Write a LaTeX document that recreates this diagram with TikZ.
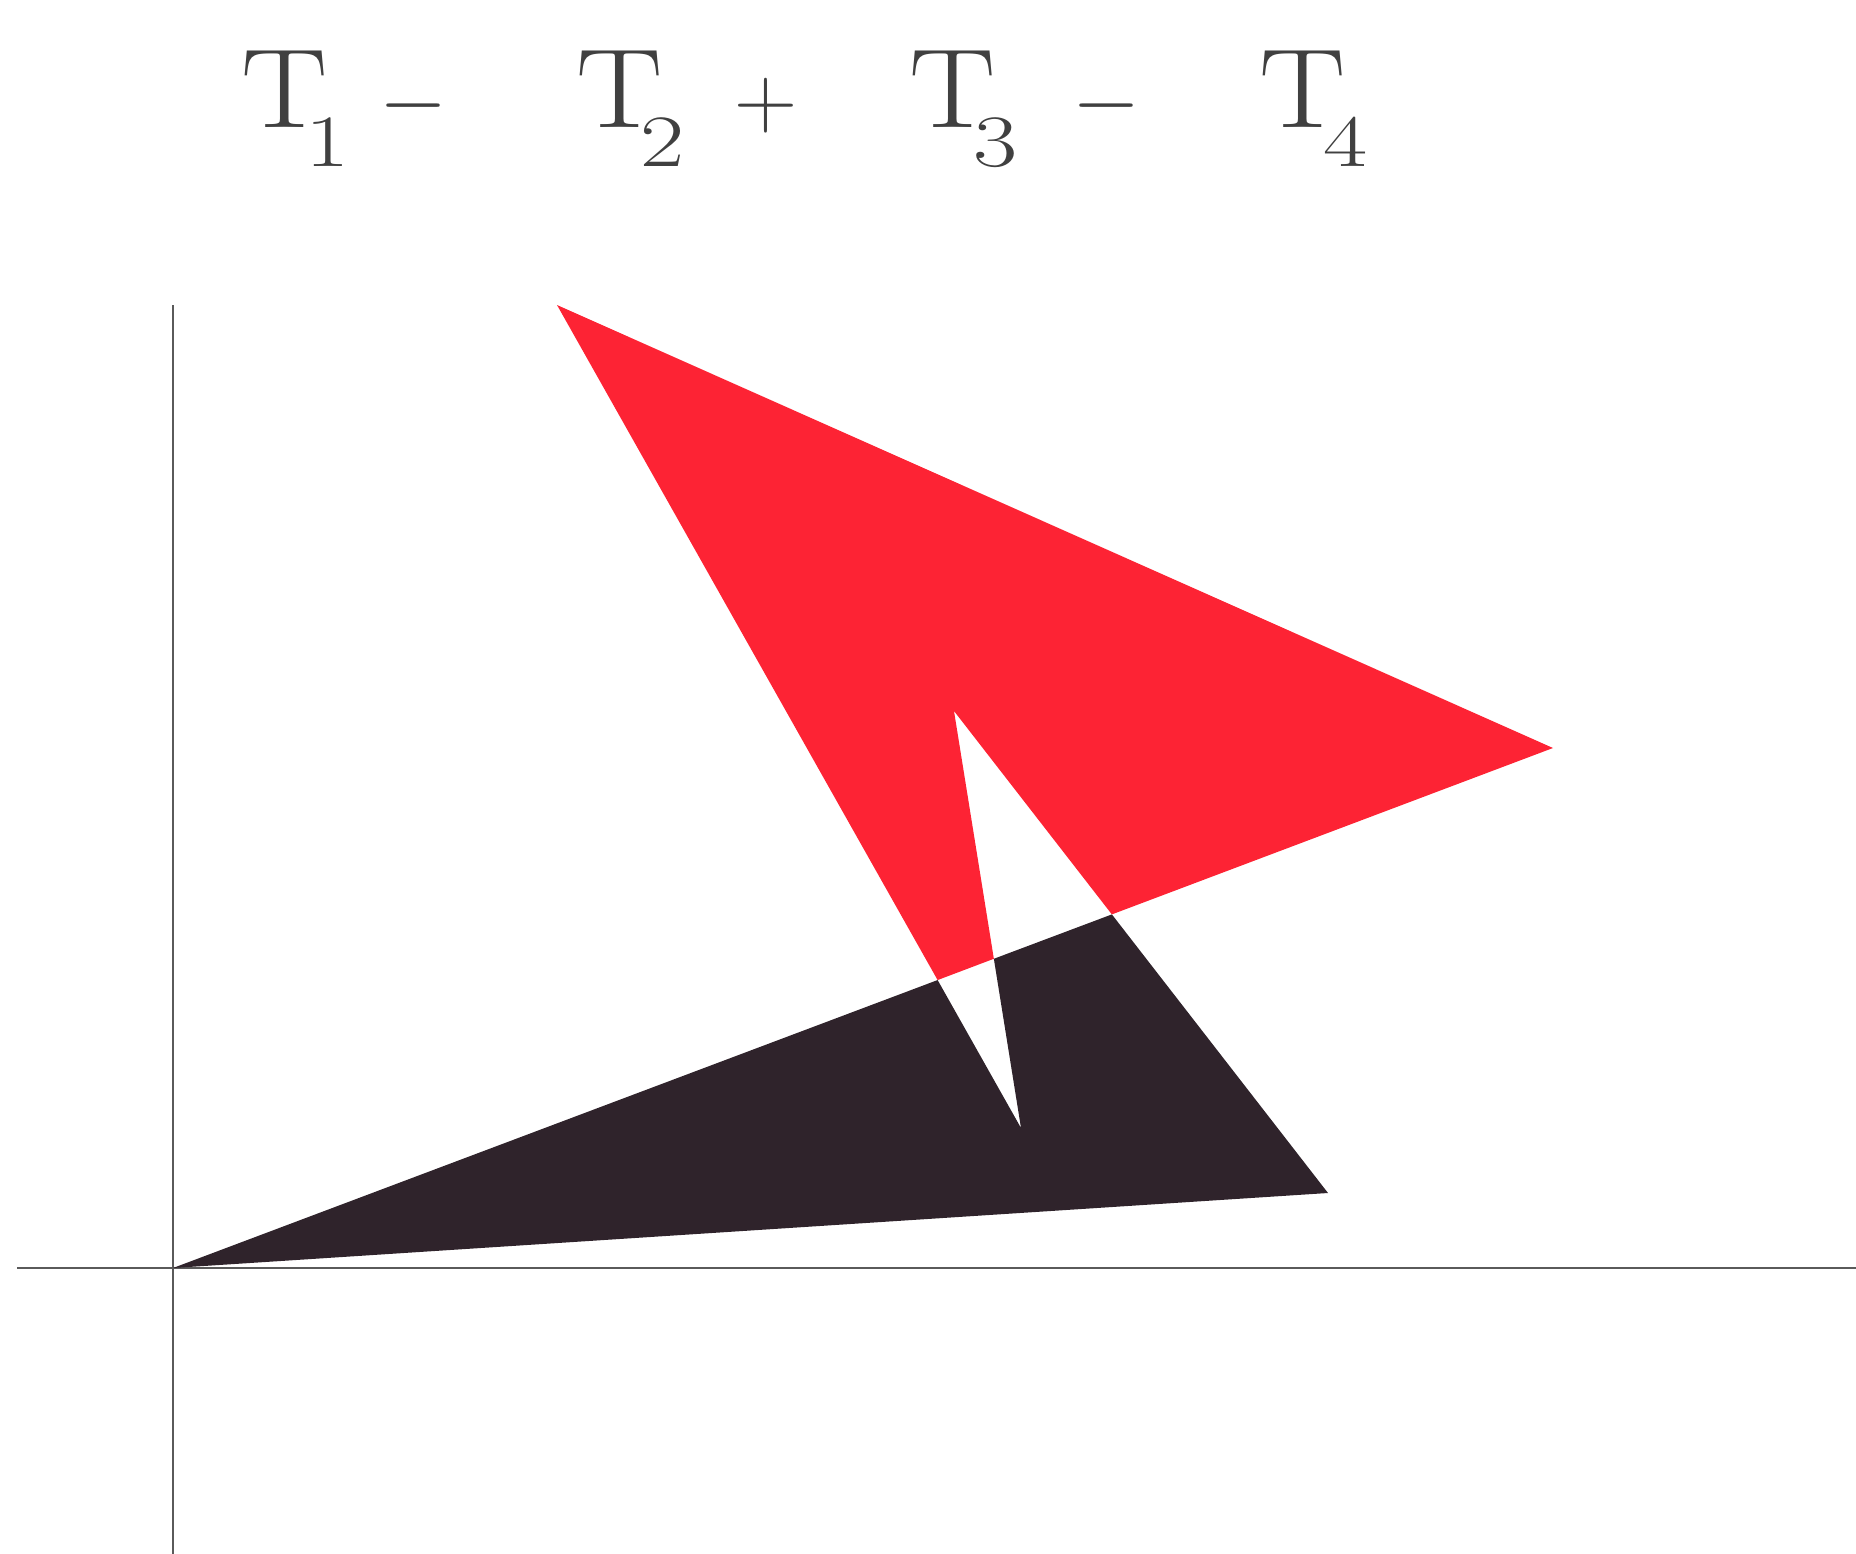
\documentclass[tikz,border=0pt]{standalone}
\usepackage{tikz}
\usetikzlibrary{positioning}
\definecolor{mRed}{HTML}{FD2334}
\definecolor{mDark}{HTML}{2F232B}
\definecolor{mAxis}{HTML}{5A5A5A}
\definecolor{mText}{HTML}{404040}
\newcommand{\tterm}[1]{\scalebox{1.15}[1]{T}\kern-6.5pt\raisebox{-11.2pt}{\fontsize{21}{24}\selectfont\scalebox{1.3}[1]{#1}}}
\tikzset{
  tlabel/.style={inner sep=0pt, anchor=base west, text=mText, font=\fontsize{32}{38}\selectfont},
  oplabel/.style={inner sep=0pt, anchor=base, text=mText, font=\fontsize{32}{38}\selectfont},
  axisline/.style={mAxis, line width=0.8pt},
  redpart/.style={fill=mRed, draw=none},
  darkpart/.style={fill=mDark, draw=none},
}
\begin{document}
\begin{tikzpicture}[x=0.01cm, y=-0.01cm]
    \useasboundingbox (0,0) rectangle (1856,1554);
    % title
    \node[tlabel]  (t1) at (241,127)  {\tterm{1}};
    \node[oplabel] (o1) at (414,127)  {$-$};
    \node[tlabel]  (t2) at (576,127)  {\tterm{2}};
    \node[oplabel] (o2) at (766,127)  {$+$};
    \node[tlabel]  (t3) at (909,127)  {\tterm{3}};
    \node[oplabel] (o3) at (1107,127) {$-$};
    \node[tlabel]  (t4) at (1259,127) {\tterm{4}};
    % axes
    \coordinate (xl) at (17,1268);
    \coordinate (xr) at (1856,1268);
    \coordinate (yt) at (173,305);
    \coordinate (yb) at (173,1554);
    \draw[axisline] (xl) -- (xr);
    \draw[axisline] (yt) -- (yb);
    % polygon corners
    \coordinate (o) at (173,1268);
    \coordinate (b) at (1328,1193);
    \coordinate (a) at (954,711);
    \coordinate (v) at (1021,1128);
    \coordinate (t) at (557,305);
    \coordinate (r) at (1553,748);
    \coordinate (x1) at (intersection of t--v and o--r);
    \coordinate (x2) at (intersection of a--b and o--r);
    \coordinate (x3) at (intersection of a--v and o--r);
    \fill[redpart]  (t) -- (r) -- (x2) -- (a) -- (x3) -- (x1) -- cycle;
    \fill[darkpart] (o) -- (b) -- (x2) -- (x3) -- (v) -- (x1) -- cycle;
\end{tikzpicture}
\end{document}
